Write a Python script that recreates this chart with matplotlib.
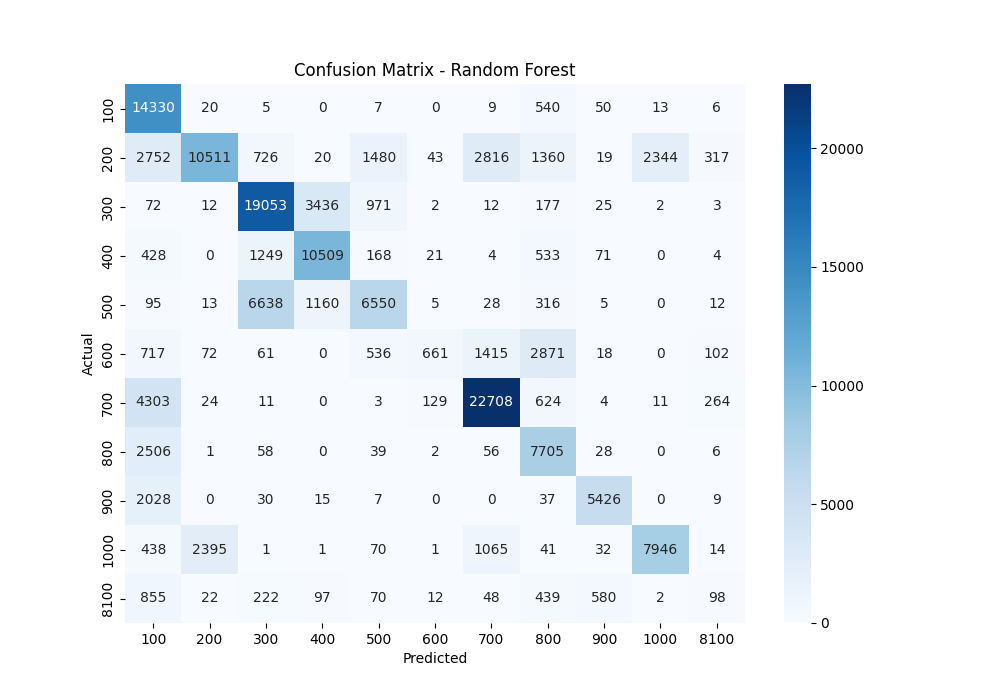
import numpy as np
import matplotlib
matplotlib.use("Agg")
import matplotlib.pyplot as plt
import seaborn as sns

labels = ["100", "200", "300", "400", "500", "600", "700", "800", "900", "1000", "8100"]

row_100 = [14330, 20, 5, 0, 7, 0, 9, 540, 50, 13, 6]
row_200 = [2752, 10511, 726, 20, 1480, 43, 2816, 1360, 19, 2344, 317]
row_300 = [72, 12, 19053, 3436, 971, 2, 12, 177, 25, 2, 3]
row_400 = [428, 0, 1249, 10509, 168, 21, 4, 533, 71, 0, 4]
row_500 = [95, 13, 6638, 1160, 6550, 5, 28, 316, 5, 0, 12]
row_600 = [717, 72, 61, 0, 536, 661, 1415, 2871, 18, 0, 102]
row_700 = [4303, 24, 11, 0, 3, 129, 22708, 624, 4, 11, 264]
row_800 = [2506, 1, 58, 0, 39, 2, 56, 7705, 28, 0, 6]
row_900 = [2028, 0, 30, 15, 7, 0, 0, 37, 5426, 0, 9]
row_1000 = [438, 2395, 1, 1, 70, 1, 1065, 41, 32, 7946, 14]
row_8100 = [855, 22, 222, 97, 70, 12, 48, 439, 580, 2, 98]

cm = np.array([row_100, row_200, row_300, row_400, row_500, row_600,
               row_700, row_800, row_900, row_1000, row_8100])

fig = plt.figure(figsize=(10, 7), dpi=100)
ax = sns.heatmap(cm, annot=True, fmt="d", cmap="Blues",
                 xticklabels=labels, yticklabels=labels)
ax.set_title("Confusion Matrix - Random Forest")
ax.set_xlabel("Predicted")
ax.set_ylabel("Actual")
fig.savefig("out.png", dpi=100)
